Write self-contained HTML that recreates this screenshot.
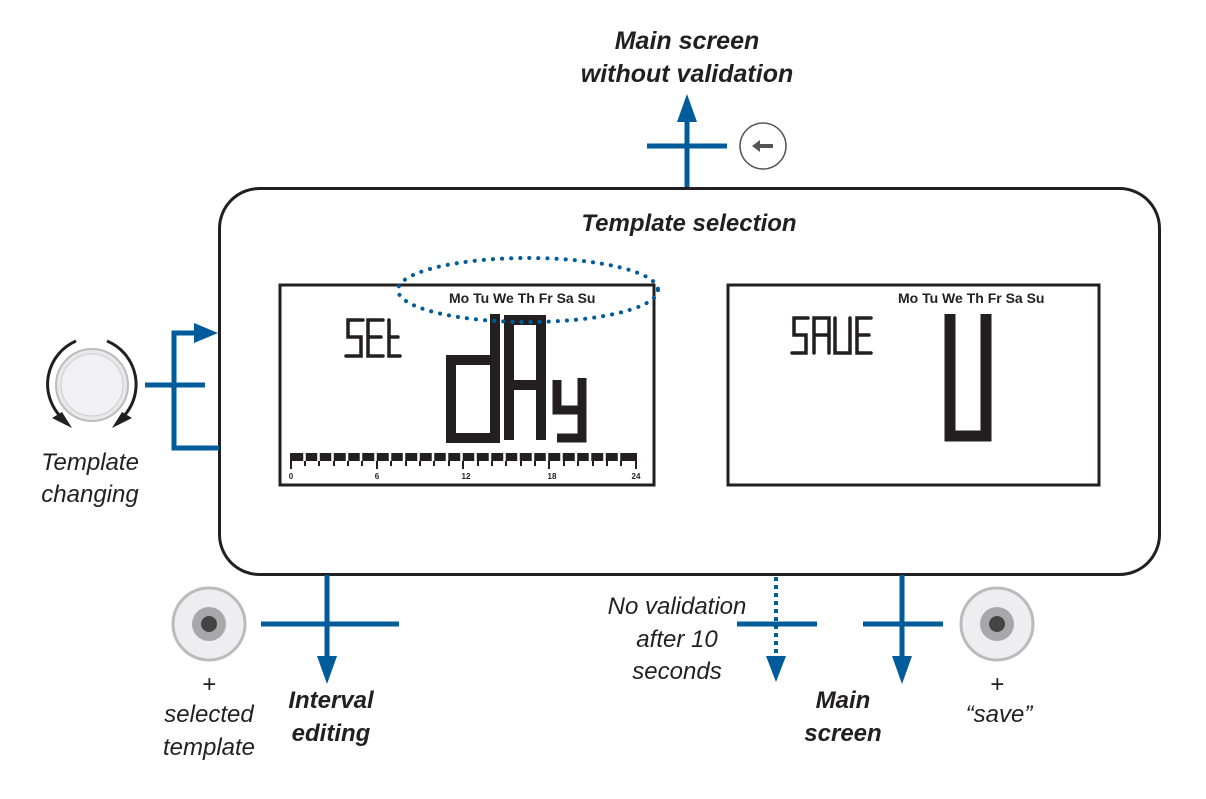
<!DOCTYPE html>
<html><head><meta charset="utf-8"><style>
html,body{margin:0;padding:0;background:#fff;}
svg{display:block}
.t{font-family:"Liberation Sans",Arial,sans-serif;font-style:italic;fill:#231f20}
.b{font-weight:bold}
.d{font-family:"Liberation Sans",Arial,sans-serif;font-weight:bold;font-size:14px;fill:#231f20}
</style></head><body>
<svg width="1206" height="799" viewBox="0 0 1206 799" xmlns="http://www.w3.org/2000/svg">
<!-- top labels -->
<text class="t b" x="687" y="49" font-size="25" text-anchor="middle">Main screen</text>
<text class="t b" x="687" y="82" font-size="25" text-anchor="middle">without validation</text>
<line x1="687" y1="188" x2="687" y2="118" stroke="#005b9a" stroke-width="5"/>
<polygon points="677,122 697,122 687,94" fill="#005b9a"/>
<line x1="647" y1="146" x2="727" y2="146" stroke="#005b9a" stroke-width="5"/>
<circle cx="763" cy="146" r="23" fill="#fff" stroke="#555" stroke-width="1.5"/>
<polygon points="752,146 760,140 760,144 773,144 773,148 760,148 760,152" fill="#555"/>

<!-- main box -->
<rect x="219.5" y="188.5" width="940" height="386" rx="40" fill="#fff" stroke="#231f20" stroke-width="3"/>
<text class="t b" x="689" y="231" font-size="24" text-anchor="middle">Template selection</text>

<!-- LCD frames -->
<rect x="280" y="285" width="374" height="200" fill="#fff" stroke="#231f20" stroke-width="3"/>
<rect x="728" y="285" width="371" height="200" fill="#fff" stroke="#231f20" stroke-width="3"/>
<text class="d" x="449" y="303">Mo Tu We Th Fr Sa Su</text>
<text class="d" x="898" y="303">Mo Tu We Th Fr Sa Su</text>
<g stroke="#231f20" stroke-width="3.5" fill="none" stroke-linecap="round">
<path d="M363 320 H348 V337 H361 V356 H346"/>
<path d="M383 320 H368 V356 H383 M368 337 H381"/>
<path d="M389 320 V356 H400 M389 337 H398"/>
<path d="M808 318 H794 V335 H806 V353 H792"/>
<path d="M814 353 V318 H829 V353 M814 335 H829"/>
<path d="M835 318 V353 H850 V318"/>
<path d="M871 318 H857 V353 H871 M857 335 H869"/>
</g>
<g stroke="#231f20" stroke-width="10" fill="none" stroke-linejoin="miter">
<path d="M495 314 V438 H451 V360 H495"/>
<path d="M509 440 V320 H541 V440 M509 385 H541"/>
<path d="M557 380 V410 H582 M582 378 V438 H557" stroke-width="9"/>
<path d="M950 314 V436 H986 V314" stroke-width="11"/>
</g>
<!-- timeline -->
<rect x="290" y="453" width="347" height="8" fill="#231f20"/>
<g stroke="#fff" stroke-width="2.5">
<path d="M304.5 452v10M318.5 452v10M332.5 452v10M347 452v10M361 452v10M375.5 452v10M390 452v10M404 452v10M418.5 452v10M433 452v10M447 452v10M461.5 452v10M475.5 452v10M490 452v10M504.5 452v10M518.5 452v10M533 452v10M547 452v10M561.5 452v10M576 452v10M590 452v10M604.5 452v10M619 452v10"/>
</g>
<g stroke="#231f20" stroke-width="2">
<path d="M291 461v8M305 461v5M319 461v5M334 461v5M348 461v5M362 461v5M377 461v8M391 461v5M406 461v5M420 461v5M434 461v5M449 461v5M463 461v8M478 461v5M492 461v5M506 461v5M521 461v5M535 461v5M549 461v8M564 461v5M578 461v5M593 461v5M607 461v5M621 461v5M636 461v8"/>
</g>
<g font-family="Liberation Sans,Arial,sans-serif" font-weight="bold" font-size="8" fill="#231f20" text-anchor="middle">
<text x="291" y="479">0</text><text x="377" y="479">6</text><text x="466" y="479">12</text><text x="552" y="479">18</text><text x="636" y="479">24</text>
</g>
<ellipse cx="528" cy="290" rx="130" ry="32" fill="none" stroke="#005b9a" stroke-width="4" stroke-dasharray="0.1 9" stroke-linecap="round"/>

<!-- knob left -->
<path d="M76 341 A47 47 0 0 0 62 418" stroke="#231f20" stroke-width="3" fill="none"/>
<path d="M107 341 A47 47 0 0 1 122 418" stroke="#231f20" stroke-width="3" fill="none"/>
<polygon points="52,418 72,428 62,412" fill="#231f20"/>
<polygon points="132,418 112,428 122,412" fill="#231f20"/>
<circle cx="92" cy="385" r="36" fill="#e8e8ea" stroke="#bbb" stroke-width="2"/>
<circle cx="92" cy="385" r="31" fill="#f1f1f3" stroke="#ccc" stroke-width="1"/>
<g stroke="#005b9a" stroke-width="5" fill="none">
<line x1="145" y1="385" x2="205" y2="385"/>
<path d="M205 333 H174 V448 H219"/>
</g>
<polygon points="194,323 194,343 218,333" fill="#005b9a"/>
<text class="t" x="90" y="470" font-size="24" text-anchor="middle">Template</text>
<text class="t" x="90" y="502" font-size="24" text-anchor="middle">changing</text>

<!-- bottom left -->
<circle cx="209" cy="624" r="36" fill="#eeeef0" stroke="#bbb" stroke-width="3"/>
<circle cx="209" cy="624" r="17" fill="#a8a8aa"/>
<circle cx="209" cy="624" r="8" fill="#444"/>
<line x1="327" y1="575" x2="327" y2="660" stroke="#005b9a" stroke-width="5"/>
<polygon points="317,656 337,656 327,684" fill="#005b9a"/>
<line x1="261" y1="624" x2="399" y2="624" stroke="#005b9a" stroke-width="5"/>
<text class="t" x="209" y="692" font-size="24" text-anchor="middle">+</text>
<text class="t" x="209" y="722" font-size="24" text-anchor="middle">selected</text>
<text class="t" x="209" y="755" font-size="24" text-anchor="middle">template</text>
<text class="t b" x="331" y="708" font-size="24" text-anchor="middle">Interval</text>
<text class="t b" x="331" y="741" font-size="24" text-anchor="middle">editing</text>

<!-- dotted -->
<line x1="776" y1="577" x2="776" y2="656" stroke="#005b9a" stroke-width="4" stroke-dasharray="4 4"/>
<polygon points="766,656 786,656 776,682" fill="#005b9a"/>
<line x1="737" y1="624" x2="817" y2="624" stroke="#005b9a" stroke-width="5"/>
<text class="t" x="677" y="614" font-size="24" text-anchor="middle">No validation</text>
<text class="t" x="677" y="647" font-size="24" text-anchor="middle">after 10</text>
<text class="t" x="677" y="679" font-size="24" text-anchor="middle">seconds</text>

<!-- main screen -->
<line x1="902" y1="575" x2="902" y2="660" stroke="#005b9a" stroke-width="5"/>
<polygon points="892,656 912,656 902,684" fill="#005b9a"/>
<line x1="863" y1="624" x2="943" y2="624" stroke="#005b9a" stroke-width="5"/>
<text class="t b" x="843" y="708" font-size="24" text-anchor="middle">Main</text>
<text class="t b" x="843" y="741" font-size="24" text-anchor="middle">screen</text>
<circle cx="997" cy="624" r="36" fill="#eeeef0" stroke="#bbb" stroke-width="3"/>
<circle cx="997" cy="624" r="17" fill="#a8a8aa"/>
<circle cx="997" cy="624" r="8" fill="#444"/>
<text class="t" x="997" y="692" font-size="24" text-anchor="middle">+</text>
<text class="t" x="999" y="722" font-size="24" text-anchor="middle">“save”</text>
</svg>
</body></html>
